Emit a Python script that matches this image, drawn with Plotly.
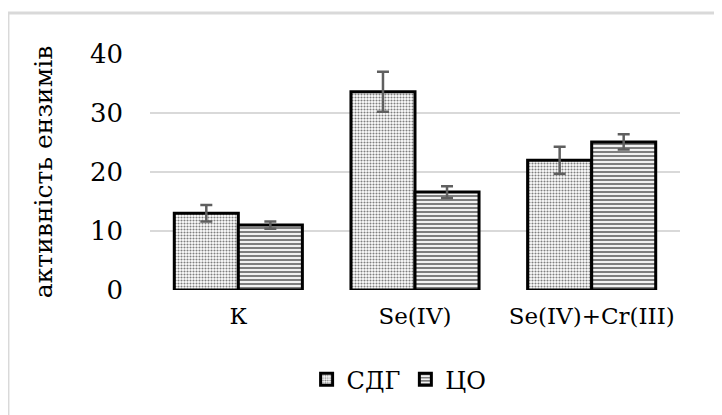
import plotly.graph_objects as go

categories = ["К", "Se(IV)", "Se(IV)+Cr(III)"]
sdg_values = [13.0, 33.6, 22.0]
sdg_errors = [1.4, 3.4, 2.3]
co_values = [11.0, 16.6, 25.1]
co_errors = [0.6, 1.0, 1.3]
y_ticks = [0, 10, 20, 30, 40]

FONT = "DejaVu Serif"

fig = go.Figure()
fig.add_trace(go.Bar(
    name="СДГ", x=categories, y=sdg_values,
    error_y=dict(type="data", array=sdg_errors, color="#5f5f5f", thickness=2.5, width=6),
    marker=dict(color="white", line=dict(color="black", width=3),
                pattern=dict(shape=".", fgcolor="black", bgcolor="white", size=3, solidity=0.4)),
))
fig.add_trace(go.Bar(
    name="ЦО", x=categories, y=co_values,
    error_y=dict(type="data", array=co_errors, color="#5f5f5f", thickness=2.5, width=6),
    marker=dict(color="white", line=dict(color="black", width=3),
                pattern=dict(shape="-", fgcolor="black", bgcolor="white", size=4, solidity=0.55)),
))

fig.update_layout(
    width=714, height=407,
    margin=dict(l=142, r=42, t=46, b=125),
    paper_bgcolor="white", plot_bgcolor="white",
    barmode="group", bargap=0.275, bargroupgap=0,
    font=dict(family=FONT, size=23, color="black"),
    showlegend=True,
    legend=dict(orientation="h", x=0.47, xanchor="center", y=-0.38, yanchor="middle",
                font=dict(family=FONT, size=24), itemwidth=30, traceorder="normal"),
    shapes=[dict(type="rect", xref="paper", yref="paper", x0=-0.268, x1=1.3, y0=-0.8, y1=1.174,
                 line=dict(color="#d9d9d9", width=3), fillcolor="rgba(0,0,0,0)", layer="below")],
)
fig.update_xaxes(showgrid=False, showline=False, ticks="", ticklabelstandoff=10,
                 tickfont=dict(family=FONT, size=23))
fig.update_yaxes(range=[0, 40], tickvals=y_ticks, showgrid=True, gridcolor="#d9d9d9", gridwidth=1.5,
                 zeroline=False, showline=False, ticks="", ticklen=0, ticklabelstandoff=26,
                 tickfont=dict(family=FONT, size=26),
                 title=dict(text="активність ензимів", font=dict(family=FONT, size=25), standoff=30))

fig.write_html("out.html")
